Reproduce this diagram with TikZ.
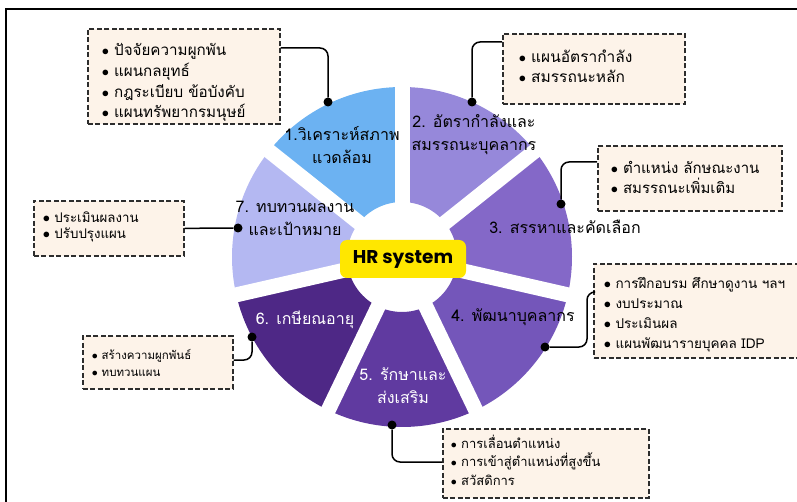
\documentclass[tikz,border=0pt]{standalone}
\usepackage{fontspec}
\newfontfamily\thaifont[Script=Thai]{Loma}
\newfontfamily\hrfont{Poppins}

\definecolor{segA}{RGB}{108,178,242}
\definecolor{segB}{RGB}{150,136,218}
\definecolor{segC}{RGB}{132,104,200}
\definecolor{segD}{RGB}{116,86,186}
\definecolor{segE}{RGB}{96,58,160}
\definecolor{segF}{RGB}{78,40,134}
\definecolor{segG}{RGB}{180,184,242}
\definecolor{boxfill}{RGB}{253,243,233}
\definecolor{boxline}{RGB}{45,45,45}
\definecolor{hryellow}{RGB}{255,231,0}

\tikzset{
  callout/.style={draw=boxline, fill=boxfill, dash pattern=on 5pt off 2.5pt,
    line width=1.7pt, anchor=north west, align=left, inner ysep=0pt,
    execute at begin node={\lineskiplimit=-20pt}},
  seglabel/.style={font=\thaifont\fontsize{16}{23}\selectfont, align=center},
  dot/.style={circle, fill=black, inner sep=0pt, minimum size=9pt},
  conn/.style={line width=1.5pt, rounded corners=8pt},
  hrbox/.style={fill=hryellow, rounded corners=7pt, minimum width=126pt,
    minimum height=38pt, font=\hrfont\bfseries\fontsize{18.5}{20}\selectfont}
}

\begin{document}
\begin{tikzpicture}[x=1pt,y=-1pt]
  \useasboundingbox (0,0) rectangle (797,502);
  \draw[line width=1.8pt] (6,9) rectangle (812,515);

  % wheel of seven parts
  \begin{scope}[shift={(402,257)}, yscale=-1]
    \foreach \i/\col in {1/segA,2/segB,3/segC,4/segD,5/segE,6/segF,7/segG}{
      \pgfmathsetmacro\ahi{141.43-(\i-1)*51.43}
      \pgfmathsetmacro\alo{\ahi-51.43}
      \fill[\col] (\alo:55) arc[start angle=\alo, end angle=\ahi, radius=55]
        -- (\ahi:170) arc[start angle=\ahi, end angle=\alo, radius=170] -- cycle;
    }
    \foreach \a in {90,38.57,-12.86,-64.29,-115.71,-167.14,141.43}
      \draw[white, line width=15pt] (0,0) -- (\a:185);
  \end{scope}

  \node[hrbox] (hr) at (403,259) {HR system};

  % part labels
  \node[seglabel] (s1) at (342,145) {1.วิเคราะห์สภาพ\\แวดล้อม};
  \node[seglabel] (s2) at (474,135) {2. อัตรากำลังและ\\สมรรถนะบุคลากร};
  \node[seglabel] (s3) at (565,227) {3. สรรหาและคัดเลือก};
  \node[seglabel] (s4) at (513,317) {4. พัฒนาบุคลากร};
  \node[seglabel, text=white] (s5) at (403,386) {5. รักษาและ\\ส่งเสริม};
  \node[seglabel, text=white] (s6) at (305,320) {6. เกษียณอายุ};
  \node[seglabel] (s7) at (295,218) {7. ทบทวนผลงาน\\และเป้าหมาย};

  % dots
  \node[dot] (d1) at (328,102) {};
  \node[dot] (d2) at (472,102) {};
  \node[dot] (d3) at (561,204) {};
  \node[dot] (d4) at (545,347) {};
  \node[dot] (d5) at (392,425) {};
  \node[dot] (d6) at (252,337) {};
  \node[dot] (d7) at (238,228) {};

  % callout boxes
  \node[callout, text width=164pt, minimum height=95pt, inner xsep=14pt,
    text height=20pt, text depth=61pt,
    font=\thaifont\fontsize{15.2}{20.7}\selectfont] (b1) at (87,28)
    {$\bullet$\ ปัจจัยความผูกพัน\\$\bullet$\ แผนกลยุทธ์\\$\bullet$\ กฎระเบียบ ข้อบังคับ\\$\bullet$\ แผนทรัพยากรมนุษย์};
  \node[callout, text width=150pt, minimum height=70pt, inner xsep=16pt,
    text height=14pt, text depth=26pt,
    font=\thaifont\fontsize{15.5}{20}\selectfont] (b2) at (502,33)
    {$\bullet$\ แผนอัตรากำลัง\\$\bullet$\ สมรรถนะหลัก};
  \node[callout, text width=158pt, minimum height=65pt, inner xsep=13pt,
    text height=14pt, text depth=23pt,
    font=\thaifont\fontsize{15}{20}\selectfont] (b3) at (597,145)
    {$\bullet$\ ตำแหน่ง ลักษณะงาน\\$\bullet$\ สมรรถนะเพิ่มเติม};
  \node[callout, text width=186pt, minimum height=94pt, inner xsep=10pt,
    text height=16pt, text depth=61pt,
    font=\thaifont\fontsize{13.5}{20}\selectfont] (b4) at (593,263)
    {$\bullet$\ การฝึกอบรม ศึกษาดูงาน ฯลฯ\\$\bullet$\ งบประมาณ\\$\bullet$\ ประเมินผล\\$\bullet$\ แผนพัฒนารายบุคคล IDP};
  \node[callout, text width=190pt, minimum height=69pt, inner xsep=8pt,
    text height=12pt, text depth=42pt,
    font=\thaifont\fontsize{13}{18.5}\selectfont] (b5) at (442,428)
    {$\bullet$\ การเลื่อนตำแหน่ง\\$\bullet$\ การเข้าสู่ตำแหน่งที่สูงขึ้น\\$\bullet$\ สวัสดิการ};
  \node[callout, text width=132pt, minimum height=53pt, inner xsep=9pt,
    text height=12pt, text depth=17pt,
    font=\thaifont\fontsize{11.5}{17}\selectfont] (b6) at (82,335)
    {$\bullet$\ สร้างความผูกพันธ์\\$\bullet$\ ทบทวนแผน};
  \node[callout, text width=132pt, minimum height=55pt, inner xsep=9pt,
    text height=12pt, text depth=24pt,
    font=\thaifont\fontsize{13.3}{16.5}\selectfont] (b7) at (33,200)
    {$\bullet$\ ประเมินผลงาน\\$\bullet$\ ปรับปรุงแผน};

  % connectors
  \draw[conn] ([yshift=-20pt]b1.north east) -| (d1);
  \draw[conn] ([yshift=-9pt]b2.north west) -| (d2);
  \draw[conn] ([yshift=-17pt]b3.north west) -| (d3);
  \draw[conn] ([yshift=-29pt]b4.north west) -- ++(-6,0) |- (d4);
  \draw[conn] (d5) |- ([yshift=-34pt]b5.north west);
  \draw[conn] (d6) |- ([yshift=-25pt]b6.north east);
  \draw[conn] (b7.east) -- (d7);
\end{tikzpicture}
\end{document}
